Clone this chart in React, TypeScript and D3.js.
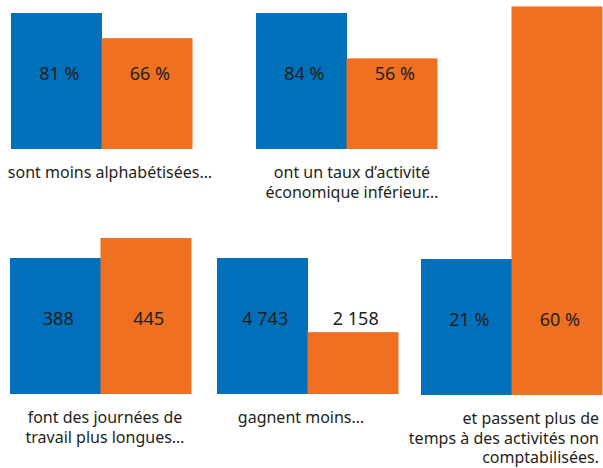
import React, { useRef, useEffect } from 'react';
import * as d3 from 'd3';

// women (blue) vs men (orange), one pair per statement
const blueValues = [81, 84, 388, 4743, 21];
const orangeValues = [66, 56, 445, 2158, 60];
const blueLabels = ['81 %', '84 %', '388', '4 743', '21 %'];
const orangeLabels = ['66 %', '56 %', '445', '2 158', '60 %'];
const captions = [
    ['sont moins alphabétisées…'],
    ['ont un taux d’activité', 'économique inférieur…'],
    ['font des journées de', 'travail plus longues…'],
    ['gagnent moins…'],
    ['et passent plus de', 'temps à des activités non', 'comptabilisées.'],
];

const BLUE = '#0070BA';
const ORANGE = '#F07022';
const TEXT = '#231F20';
const FONT = '"Noto Sans", sans-serif';

// panel layout
const panelLeft = [11, 256, 10, 217, 421];
const panelBase = [149, 149, 394, 394, 395];
const captionX = [110, 352, 105, 301, 599];
const captionAnchor = ['middle', 'middle', 'middle', 'middle', 'end'];
const barWidth = 90.5;
const blueHeight = 136;
const lineHeight = 19.5;

const drawChart = (svg: d3.Selection<SVGSVGElement, unknown, null, undefined>) => {
    svg.selectAll('*').remove();

    blueValues.forEach((bv, i) => {
        const ov = orangeValues[i];
        const g = svg.append('g')
            .attr('transform', `translate(${panelLeft[i]},${panelBase[i]})`);

        // each panel has its own scale, the blue bar sets the reference height
        const h = d3.scaleLinear().domain([0, bv]).range([0, blueHeight]);
        const x = d3.scaleBand<string>()
            .domain(['f', 'm'])
            .range([0, barWidth * 2])
            .padding(0);

        const bars = [
            { key: 'f', value: bv, label: blueLabels[i], color: BLUE },
            { key: 'm', value: ov, label: orangeLabels[i], color: ORANGE },
        ];

        g.selectAll('rect')
            .data(bars)
            .enter().append('rect')
            .attr('x', d => x(d.key)!)
            .attr('y', d => -h(d.value))
            .attr('width', x.bandwidth() + 0.5)
            .attr('height', d => h(d.value))
            .attr('fill', d => d.color);

        // value labels sit at the middle of the blue bar
        g.selectAll('text.value')
            .data(bars)
            .enter().append('text')
            .attr('class', 'value')
            .attr('x', d => x(d.key)! + x.bandwidth() / 2 + 3)
            .attr('y', -blueHeight / 2 - 1)
            .attr('text-anchor', 'middle')
            .attr('font-family', FONT)
            .attr('font-size', 18)
            .attr('fill', TEXT)
            .text(d => d.label);

        const cap = svg.append('text')
            .attr('x', captionX[i])
            .attr('y', panelBase[i] + 29)
            .attr('text-anchor', captionAnchor[i])
            .attr('font-family', FONT)
            .attr('font-size', 16)
            .attr('fill', TEXT);
        captions[i].forEach((line, j) => {
            cap.append('tspan')
                .attr('x', captionX[i])
                .attr('dy', j === 0 ? 0 : lineHeight)
                .text(line);
        });
    });
};

const App: React.FC = () => {
    const ref = useRef<SVGSVGElement>(null);

    useEffect(() => {
        if (ref.current) drawChart(d3.select(ref.current));
    }, []);

    return (
        <svg
            ref={ref}
            width={603}
            height={468}
            style={{ position: 'absolute', left: 0, top: 0, background: '#fff' }}
        />
    );
};

export default App;
